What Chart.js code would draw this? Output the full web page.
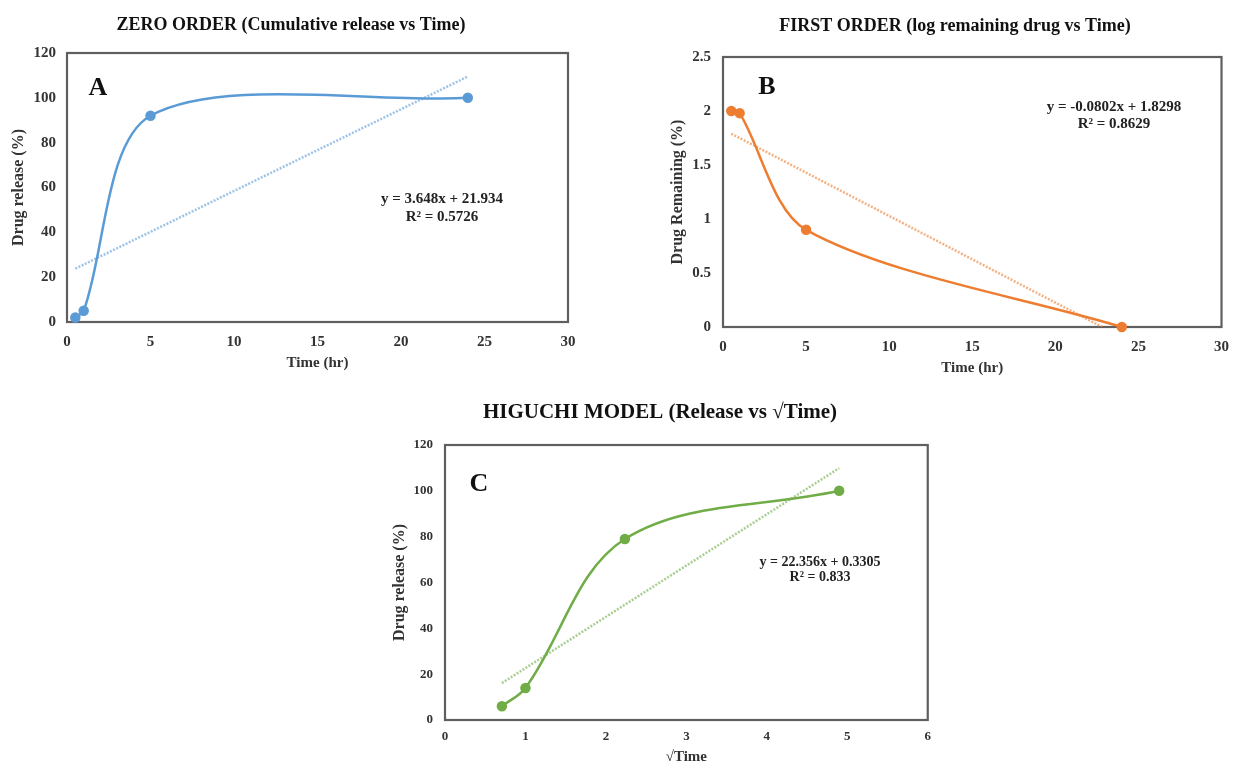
<!DOCTYPE html>
<html>
<head>
<meta charset="utf-8">
<script src="https://cdn.jsdelivr.net/npm/chart.js@4.4.0/dist/chart.umd.min.js"></script>
<style>
  html, body { margin: 0; padding: 0; background: #fff; overflow: hidden; }
  body { width: 1240px; height: 762px; position: relative; }
  canvas { position: absolute; }
</style>
</head>
<body>
<canvas id="zeroChart" width="620" height="380" style="left:0;top:0"></canvas>
<canvas id="firstChart" width="620" height="380" style="left:620px;top:0"></canvas>
<canvas id="higuchiChart" width="560" height="400" style="left:380px;top:380px"></canvas>
<script>
// values
var zeroTime = [0.5, 1, 5, 24];
var zeroRelease = [2, 5, 92, 100];
var zeroTrendX = [0.5, 24];
var zeroTrendY = [23.8, 109.5];

var firstTime = [0.5, 1, 5, 24];
var firstLogRemaining = [2.0, 1.98, 0.9, 0];
var firstTrendX = [0.5, 24];
var firstTrendY = [1.79, -0.095];

var sqrtTime = [0.707, 1, 2.236, 4.899];
var higuchiRelease = [6, 14, 79, 100];
var higuchiTrendX = [0.707, 4.899];
var higuchiTrendY = [16.1, 109.9];

var timeTicks = [0, 5, 10, 15, 20, 25, 30];
var releaseTicks = [0, 20, 40, 60, 80, 100, 120];
var remainingTicks = [0, 0.5, 1, 1.5, 2, 2.5];
var sqrtTimeTicks = [0, 1, 2, 3, 4, 5, 6];

var serif = '"Liberation Serif", "Times New Roman", serif';
var inkColor = '#333';

function pts(xs, ys) {
    return xs.map(function (x, i) { return { x: x, y: ys[i] }; });
}

// frame around the plot area + titles, panel letter and trendline equation
var notesPlugin = {
    id: 'notes',
    beforeDatasetsDraw: function (chart) {
        var ctx = chart.ctx, a = chart.chartArea;
        ctx.save();
        ctx.strokeStyle = '#5f5f5f';
        ctx.lineWidth = 2.2;
        ctx.strokeRect(a.left, a.top, a.right - a.left, a.bottom - a.top);
        ctx.restore();
    },
    afterDraw: function (chart, args, opts) {
        var ctx = chart.ctx;
        ctx.save();
        ctx.fillStyle = '#111';
        ctx.textAlign = 'center';
        ctx.textBaseline = 'middle';
        ctx.font = 'bold ' + opts.titleSize + 'px ' + serif;
        ctx.fillText(opts.title, opts.titleX, opts.titleY);
        ctx.font = 'bold 26px ' + serif;
        ctx.fillText(opts.letter, opts.letterX, opts.letterY);
        ctx.fillStyle = '#222';
        ctx.font = 'bold ' + opts.eqSize + 'px ' + serif;
        ctx.fillText(opts.eq1, opts.eqX, opts.eqY);
        ctx.fillText(opts.eq2, opts.eqX, opts.eqY + opts.eqGap);
        ctx.restore();
    }
};

function axis(min, max, ticks, title, cfg) {
    return {
        type: 'linear',
        min: min,
        max: max,
        afterBuildTicks: function (s) { s.ticks = ticks.map(function (v) { return { value: v }; }); },
        afterFit: function (s) {
            if (cfg.width) s.width = cfg.width;
            if (cfg.height) s.height = cfg.height;
        },
        grid: { display: false, drawTicks: false },
        border: { display: false },
        ticks: {
            autoSkip: false,
            maxRotation: 0,
            padding: cfg.tickPad,
            color: inkColor,
            font: { family: serif, size: cfg.tickSize, weight: 'bold' },
            callback: function (v) { return String(v); }
        },
        title: {
            display: true,
            text: title,
            color: inkColor,
            font: { family: serif, size: cfg.titleSize, weight: 'bold' },
            padding: cfg.titlePad
        }
    };
}

function makeChart(id, cfg) {
    return new Chart(document.getElementById(id), {
        type: 'scatter',
        data: {
            datasets: [{
                data: pts(cfg.x, cfg.y),
                showLine: true,
                tension: cfg.tension,
                borderColor: cfg.color,
                backgroundColor: cfg.color,
                borderWidth: 2.5,
                pointRadius: 4,
                pointHoverRadius: 4,
                clip: false,
                order: 1
            }, {
                data: pts(cfg.trendX, cfg.trendY),
                showLine: true,
                borderColor: cfg.trendColor,
                borderWidth: 2.5,
                borderDash: [2, 1.5],
                pointRadius: 0,
                order: 2
            }]
        },
        options: {
            responsive: false,
            animation: false,
            devicePixelRatio: 1,
            layout: { padding: cfg.padding },
            plugins: {
                legend: { display: false },
                tooltip: { enabled: false },
                notes: cfg.notes
            },
            scales: { x: cfg.xAxis, y: cfg.yAxis }
        },
        plugins: [notesPlugin]
    });
}

// A - zero order
makeChart('zeroChart', {
    x: zeroTime, y: zeroRelease, trendX: zeroTrendX, trendY: zeroTrendY,
    color: '#5B9BD5', trendColor: 'rgba(91, 155, 213, 0.6)', tension: 0.3,
    padding: { left: 0, top: 53, right: 52, bottom: 7 },
    xAxis: axis(0, 30, timeTicks, 'Time (hr)', { height: 51, tickSize: 15, tickPad: 11, titleSize: 15, titlePad: { top: 4, bottom: 1 } }),
    yAxis: axis(0, 120, releaseTicks, 'Drug release (%)', { width: 67, tickSize: 15, tickPad: 11, titleSize: 16, titlePad: { top: 9, bottom: 4 } }),
    notes: {
        title: 'ZERO ORDER (Cumulative release vs Time)', titleSize: 18, titleX: 291, titleY: 25,
        letter: 'A', letterX: 98, letterY: 88,
        eq1: 'y = 3.648x + 21.934', eq2: 'R\u00b2 = 0.5726', eqSize: 15, eqGap: 18, eqX: 442, eqY: 199
    }
});

// B - first order
makeChart('firstChart', {
    x: firstTime, y: firstLogRemaining, trendX: firstTrendX, trendY: firstTrendY,
    color: '#ED7D31', trendColor: 'rgba(237, 125, 49, 0.6)', tension: 0.3,
    padding: { left: 40, top: 57, right: 8, bottom: 2 },
    xAxis: axis(0, 30, timeTicks, 'Time (hr)', { height: 51, tickSize: 15, tickPad: 11, titleSize: 15, titlePad: { top: 4, bottom: 1 } }),
    yAxis: axis(0, 2.5, remainingTicks, 'Drug Remaining (%)', { width: 63, tickSize: 15, tickPad: 12, titleSize: 16, titlePad: { top: 8, bottom: 4 } }),
    notes: {
        title: 'FIRST ORDER (log remaining drug vs Time)', titleSize: 18, titleX: 335, titleY: 26,
        letter: 'B', letterX: 147, letterY: 87,
        eq1: 'y = -0.0802x + 1.8298', eq2: 'R\u00b2 = 0.8629', eqSize: 15, eqGap: 17, eqX: 494, eqY: 107
    }
});

// C - Higuchi
makeChart('higuchiChart', {
    x: sqrtTime, y: higuchiRelease, trendX: higuchiTrendX, trendY: higuchiTrendY,
    color: '#70AD47', trendColor: 'rgba(112, 173, 71, 0.6)', tension: 0.35,
    padding: { left: 0, top: 65, right: 12, bottom: 13 },
    xAxis: axis(0, 6, sqrtTimeTicks, '\u221aTime', { height: 47, tickSize: 13, tickPad: 9, titleSize: 15, titlePad: { top: 4, bottom: 1 } }),
    yAxis: axis(0, 120, releaseTicks, 'Drug release (%)', { width: 65, tickSize: 13, tickPad: 12, titleSize: 16, titlePad: { top: 10, bottom: 4 } }),
    notes: {
        title: 'HIGUCHI MODEL (Release vs \u221aTime)', titleSize: 21, titleX: 280, titleY: 33,
        letter: 'C', letterX: 99, letterY: 104,
        eq1: 'y = 22.356x + 0.3305', eq2: 'R\u00b2 = 0.833', eqSize: 14, eqGap: 15, eqX: 440, eqY: 182
    }
});
</script>
</body>
</html>
